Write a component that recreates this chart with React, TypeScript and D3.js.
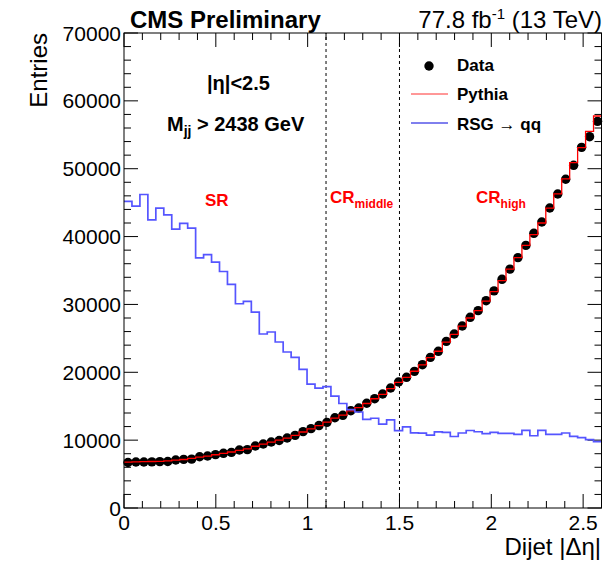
import React from "react";
import * as d3 from "d3";

const X_MIN = 0;
const X_MAX = 2.6;
const BIN_COUNT = 60;

const dataValues = [
  6700, 6780, 6780, 6800, 6830, 6850, 7070, 7170, 7200, 7560,
  7660, 7860, 8060, 8200, 8550, 8600, 9140, 9430, 9730, 9950,
  10320, 10710, 11250, 11690, 12150, 12620, 13300, 13660, 14340, 14740,
  15430, 16110, 16800, 17680, 18570, 19260, 20140, 21120, 22200, 23090,
  24560, 25640, 26820, 28100, 29080, 30550, 32000, 33700, 35200, 36900,
  38700, 40480, 42150, 44210, 46270, 48440, 50500, 53150, 54720, 56980,
];

const pythiaValues = [
  6750, 6800, 6820, 6850, 6880, 6950, 7050, 7150, 7300, 7500,
  7650, 7850, 8050, 8250, 8500, 8700, 9100, 9400, 9700, 10000,
  10300, 10700, 11200, 11650, 12150, 12650, 13250, 13700, 14300, 14800,
  15400, 16100, 16750, 17600, 18500, 19250, 20150, 21100, 22150, 23100,
  24450, 25600, 26800, 28000, 29100, 30500, 31900, 33500, 35200, 36900,
  38700, 40300, 42000, 44200, 46300, 48500, 50900, 53100, 55500, 57770,
];

const rsgValues = [
  45200, 44500, 46200, 42450, 44200, 43200, 41100, 41950, 41250, 36850,
  37350, 36230, 34850, 32970, 30100, 30460, 28880, 25640, 25940, 24460,
  22990, 22200, 20440, 18270, 17680, 17880, 16500, 15400, 14500, 14150,
  13050, 13230, 12350, 13000, 11400, 11960, 11070, 11030, 10740, 11220,
  11150, 10540, 11050, 11420, 11240, 10950, 11150, 11000, 11000, 10850,
  11450, 10650, 11450, 10850, 10850, 11050, 10570, 10360, 10070, 9770,
];

const yTicks = [0, 10000, 20000, 30000, 40000, 50000, 60000, 70000];
const xTicks = [0, 0.5, 1, 1.5, 2, 2.5];
const xTickLabels = ["0", "0.5", "1", "1.5", "2", "2.5"];
const regionBoundaries = [1.1, 1.5];

const FONT = "'Liberation Sans', Arial, Helvetica, sans-serif";

export default function App() {
  const W = 603;
  const H = 563;
  const left = 124;
  const right = 601.5;
  const top = 33;
  const bottom = 508;

  const x = d3.scaleLinear().domain([X_MIN, X_MAX]).range([left, right]);
  const y = d3.scaleLinear().domain([0, 70000]).range([bottom, top]);
  const binW = (X_MAX - X_MIN) / BIN_COUNT;

  const stepPts = (vals: number[]) => {
    const pts: [number, number][] = vals.map((v, i) => [X_MIN + i * binW, v]);
    pts.push([X_MAX, vals[vals.length - 1]]);
    return pts;
  };
  const stepLine = d3
    .line<[number, number]>()
    .x((d) => x(d[0]))
    .y((d) => y(d[1]))
    .curve(d3.curveStepAfter);

  const xMinor = d3.range(0, 27).map((i) => i * 0.1).filter((v) => v <= X_MAX + 1e-9);
  const yMinor = d3.range(0, 36).map((i) => i * 2000);

  const isMajorX = (v: number) => Math.abs(v * 2 - Math.round(v * 2)) < 1e-6;
  const isMajorY = (v: number) => v % 10000 === 0;

  return (
    <svg
      width={W}
      height={H}
      style={{ position: "absolute", left: 0, top: 0, background: "#fff" }}
      fontFamily={FONT}
    >
      <rect x={0} y={0} width={W} height={H} fill="#fff" />

      {/* ticks */}
      {xMinor.map((v, i) => {
        const len = isMajorX(v) ? 14 : 7;
        const px = x(v);
        return (
          <g key={"xt" + i}>
            <line x1={px} x2={px} y1={bottom} y2={bottom - len} stroke="#000" strokeWidth={1} />
            <line x1={px} x2={px} y1={top} y2={top + len} stroke="#000" strokeWidth={1} />
          </g>
        );
      })}
      {yMinor.map((v, i) => {
        const len = isMajorY(v) ? 14 : 7;
        const py = y(v);
        return (
          <g key={"yt" + i}>
            <line x1={left} x2={left + len} y1={py} y2={py} stroke="#000" strokeWidth={1} />
            <line x1={right} x2={right - len} y1={py} y2={py} stroke="#000" strokeWidth={1} />
          </g>
        );
      })}

      {/* region boundaries */}
      {regionBoundaries.map((b, i) => (
        <line
          key={"rb" + i}
          x1={x(b)}
          x2={x(b)}
          y1={bottom}
          y2={top}
          stroke="#000"
          strokeWidth={1}
          strokeDasharray="3,3"
        />
      ))}

      {/* data points */}
      {dataValues.map((v, i) => (
        <circle key={"d" + i} cx={x(X_MIN + (i + 0.5) * binW)} cy={y(v)} r={4.7} fill="#000" />
      ))}

      {/* Pythia */}
      <path d={stepLine(stepPts(pythiaValues)) || ""} fill="none" stroke="#ff0000" strokeWidth={1.3} />

      {/* RSG */}
      <path d={stepLine(stepPts(rsgValues)) || ""} fill="none" stroke="#5555ff" strokeWidth={1.7} />

      {/* frame */}
      <rect x={left} y={top} width={right - left} height={bottom - top} fill="none" stroke="#000" strokeWidth={1} />

      {/* tick labels */}
      {yTicks.map((v, i) => (
        <text key={"yl" + i} x={121} y={y(v) + 7.5} textAnchor="end" fontSize={21}>
          {String(v)}
        </text>
      ))}
      {xTicks.map((v, i) => (
        <text key={"xl" + i} x={x(v)} y={530} textAnchor="middle" fontSize={21}>
          {xTickLabels[i]}
        </text>
      ))}

      {/* axis titles */}
      <text transform={`translate(47,${top}) rotate(-90)`} textAnchor="end" fontSize={24}>
        Entries
      </text>
      <text x={601} y={555} textAnchor="end" fontSize={24}>
        Dijet |Δη|
      </text>

      {/* header */}
      <text x={130} y={28} fontSize={24} fontWeight="bold">
        CMS Preliminary
      </text>
      <text x={602} y={28} textAnchor="end" fontSize={24}>
        77.8 fb
        <tspan dy={-9} fontSize={15}>-1</tspan>
        <tspan dy={9}> (13 TeV)</tspan>
      </text>

      {/* cut labels */}
      <text x={207} y={90} fontSize={20} fontWeight="bold">
        |η|&lt;2.5
      </text>
      <text x={167} y={131} fontSize={20} fontWeight="bold">
        M
        <tspan dy={5} fontSize={14}>jj</tspan>
        <tspan dy={-5}> &gt; 2438 GeV</tspan>
      </text>

      {/* region labels */}
      <text x={205} y={206} fontSize={17} fontWeight="bold" fill="#ff0000">
        SR
      </text>
      <text x={330} y={203} fontSize={17} fontWeight="bold" fill="#ff0000">
        CR
        <tspan dy={5} fontSize={12}>middle</tspan>
      </text>
      <text x={476} y={203} fontSize={17} fontWeight="bold" fill="#ff0000">
        CR
        <tspan dy={5} fontSize={12}>high</tspan>
      </text>

      {/* legend */}
      <circle cx={429} cy={66} r={4.7} fill="#000" />
      <text x={457} y={71} fontSize={17} fontWeight="bold">
        Data
      </text>
      <line x1={411} x2={448} y1={94} y2={94} stroke="#ff3030" strokeWidth={1} />
      <text x={457} y={100} fontSize={17} fontWeight="bold">
        Pythia
      </text>
      <line x1={411} x2={448} y1={123} y2={123} stroke="#0000dd" strokeWidth={1} />
      <text x={457} y={130} fontSize={17} fontWeight="bold">
        RSG → qq
      </text>
    </svg>
  );
}
